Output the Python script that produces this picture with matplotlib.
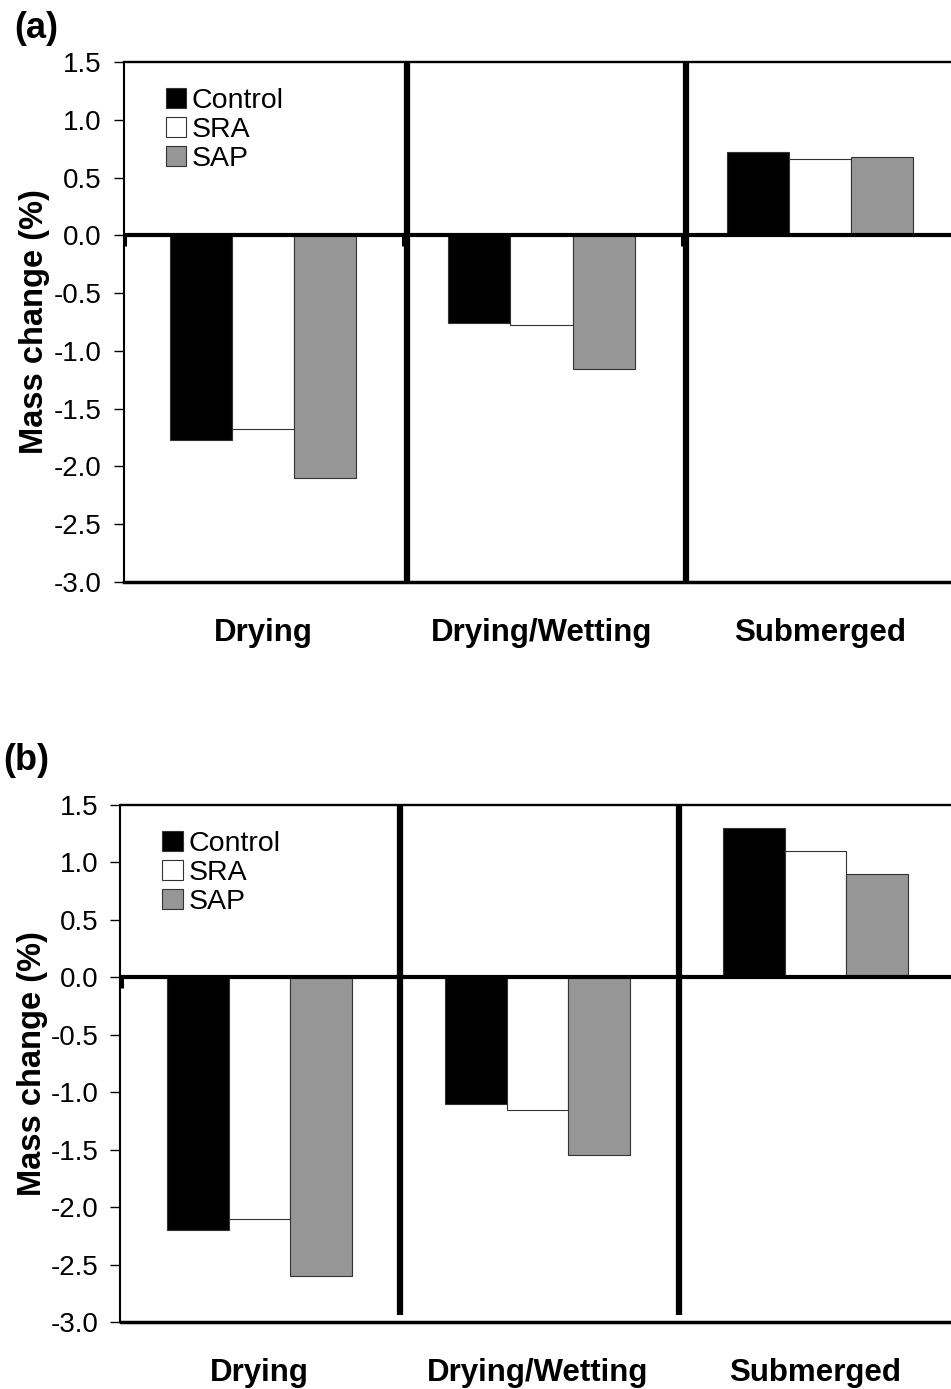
import numpy as np
import matplotlib
matplotlib.use('Agg')
import matplotlib.pyplot as plt
from matplotlib.ticker import FormatStrFormatter

plt.rcParams['font.family'] = ['Liberation Sans', 'DejaVu Sans']
plt.rcParams['axes.unicode_minus'] = False

# data
categories = ['Drying', 'Drying/Wetting', 'Submerged']
series = ['Control', 'SRA', 'SAP']
colors = ['#000000', '#ffffff', '#969696']

a_control = [-1.77, -0.76, 0.72]
a_sra = [-1.68, -0.78, 0.66]
a_sap = [-2.10, -1.16, 0.68]

b_control = [-2.20, -1.10, 1.30]
b_sra = [-2.10, -1.155, 1.10]
b_sap = [-2.60, -1.55, 0.90]

y_ticks = [-3.0, -2.5, -2.0, -1.5, -1.0, -0.5, 0.0, 0.5, 1.0, 1.5]

W, H = 951, 1389
fig = plt.figure(figsize=(W / 100, H / 100), dpi=100)


def panel(rect, vals, sep_x, sep_bottom, tag, tag_xy, ylab_x):
    ax = fig.add_axes(rect)
    x = np.arange(len(categories))
    bw = 0.223
    for i, (name, v) in enumerate(zip(series, vals)):
        ax.bar(x + (i - 1) * bw, v, width=bw, color=colors[i], edgecolor='#333333',
               linewidth=0.8, label=name, zorder=2)
    ax.set_xlim(-0.5, 2.5)
    ax.set_ylim(-3.0, 1.5)
    # zero line and category separators
    ax.axhline(0, color='black', lw=3, zorder=4)
    for sx in sep_x:
        ax.plot([sx, sx], [sep_bottom, 1.5], color='black', lw=4.5, zorder=5,
                solid_capstyle='butt', clip_on=False)
    # small category ticks on the zero line
    for hx in [-0.5, 0.5, 1.5]:
        ax.plot([hx + 0.004, hx + 0.004], [0, -0.09], color='black', lw=2.2, zorder=4,
                solid_capstyle='butt')
    ax.set_yticks(y_ticks)
    ax.yaxis.set_major_formatter(FormatStrFormatter('%.1f'))
    ax.tick_params(axis='y', direction='out', length=7, width=1, pad=9, labelsize=20)
    ax.set_xticks(x)
    ax.set_xticklabels(categories, fontsize=22.5, fontweight='bold')
    ax.tick_params(axis='x', length=0, pad=26)
    ax.spines['right'].set_visible(False)
    ax.spines['top'].set_linewidth(1.7)
    ax.spines['left'].set_linewidth(1.5)
    ax.spines['bottom'].set_linewidth(2.5)
    ax.set_ylabel('Mass change (%)', fontsize=23.5, fontweight='bold')
    ax.yaxis.set_label_coords(ylab_x, 0.5)
    ax.legend(loc='upper left', bbox_to_anchor=(0.05, 0.95), frameon=False,
              fontsize=20.5, handlelength=0.72, handleheight=0.72, handletextpad=0.2,
              labelspacing=0.1, borderpad=0, borderaxespad=0)
    fig.text(tag_xy[0] / W, 1 - tag_xy[1] / H, tag, fontsize=26, fontweight='bold',
             ha='left', va='center')
    return ax


panel([124 / W, 1 - 582 / H, 835 / W, 520 / H], [a_control, a_sra, a_sap],
      [0.518, 1.52], -3.0, '(a)', (14, 28), -0.089)
panel([120.5 / W, 1 - 1322 / H, 834 / W, 517 / H], [b_control, b_sra, b_sap],
      [0.505, 1.51], -2.94, '(b)', (3, 760), -0.087)

fig.savefig('out.png', dpi=100)
